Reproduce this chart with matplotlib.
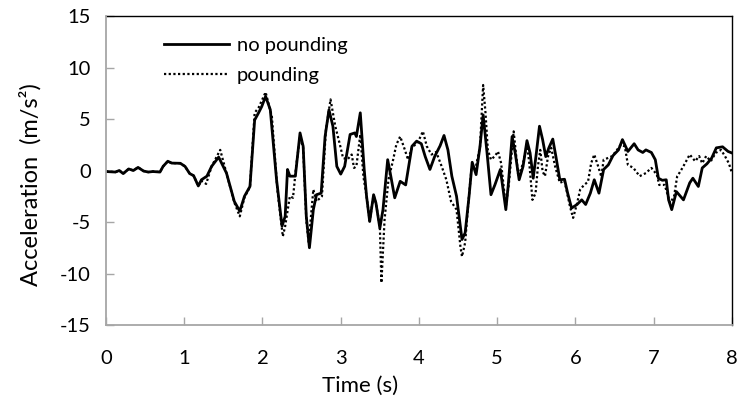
import matplotlib
matplotlib.use('Agg')
import matplotlib.pyplot as plt

plt.rcParams['font.family'] = ['Lato', 'DejaVu Sans']
plt.rcParams['axes.unicode_minus'] = False

# ground acceleration response, read at irregular time steps (s, m/s^2)
t_free = [0.00, 0.12, 0.17, 0.22, 0.29, 0.35, 0.41, 0.48, 0.54, 0.60, 0.69, 0.73, 0.79, 0.84,
          0.95, 1.01, 1.07, 1.12, 1.18, 1.22, 1.29, 1.35, 1.44, 1.54, 1.64, 1.71, 1.77, 1.84,
          1.90, 1.95, 1.99, 2.04, 2.10, 2.18, 2.25, 2.29, 2.32, 2.35, 2.42, 2.48, 2.52, 2.56,
          2.60, 2.65, 2.69, 2.75, 2.80, 2.85, 2.90, 2.95, 3.00, 3.05, 3.12, 3.18, 3.20, 3.25,
          3.30, 3.33, 3.37, 3.42, 3.45, 3.50, 3.54, 3.60, 3.64, 3.69, 3.76, 3.83, 3.91, 3.97,
          4.03, 4.08, 4.14, 4.20, 4.27, 4.32, 4.37, 4.42, 4.48, 4.55, 4.59, 4.64, 4.68, 4.73,
          4.78, 4.82, 4.87, 4.92, 4.97, 5.04, 5.11, 5.14, 5.19, 5.23, 5.28, 5.33, 5.38, 5.42,
          5.46, 5.50, 5.54, 5.58, 5.62, 5.66, 5.71, 5.75, 5.80, 5.86, 5.90, 5.95, 6.02, 6.08,
          6.13, 6.19, 6.24, 6.30, 6.36, 6.42, 6.48, 6.55, 6.60, 6.67, 6.75, 6.80, 6.86, 6.90,
          6.97, 7.02, 7.06, 7.11, 7.16, 7.19, 7.23, 7.29, 7.38, 7.46, 7.50, 7.57, 7.62, 7.68,
          7.74, 7.80, 7.88, 7.95, 8.00]
acc_free = [-0.1, -0.15, 0.0, -0.3, 0.15, 0.0, 0.3, -0.05, -0.15, -0.1, -0.15, 0.4, 0.9, 0.72,
            0.7, 0.4, -0.3, -0.5, -1.5, -0.9, -0.55, 0.4, 1.3, -0.25, -3.0, -3.95, -2.5, -1.55,
            4.9, 5.6, 6.2, 7.2, 5.9, -0.9, -5.4, -4.45, 0.1, -0.55, -0.55, 3.65, 2.35, -4.45,
            -7.5, -3.8, -2.35, -2.2, 3.3, 5.9, 4.3, 0.4, -0.35, 0.4, 3.5, 3.65, 3.3, 5.6,
            0.1, -2.5, -4.95, -2.35, -3.15, -5.6, -3.8, 1.05, -0.55, -2.65, -1.05, -1.4, 2.35, 2.85,
            2.6, 1.35, 0.1, 1.35, 2.4, 3.4, 2.0, -0.55, -2.5, -6.7, -6.05, -2.5, 0.8, -0.4,
            2.35, 5.4, 1.7, -2.35, -1.4, 0.1, -3.8, -1.5, 3.3, 1.7, -0.9, 0.4, 2.9, 1.7,
            -0.75, 1.7, 4.3, 3.0, 1.35, 2.2, 3.05, 1.35, -0.9, -0.85, -2.2, -3.65, -3.3, -2.85,
            -3.3, -2.2, -0.9, -2.2, 0.1, 0.55, 1.45, 2.0, 3.0, 1.85, 2.6, 2.0, 1.75, 2.0,
            1.75, 1.05, -0.75, -0.95, -0.9, -2.85, -3.8, -2.05, -2.85, -1.2, -0.75, -1.55, 0.25, 0.65,
            1.2, 2.2, 2.3, 1.85, 1.7]

t_pound = [0.00, 0.12, 0.17, 0.22, 0.29, 0.35, 0.41, 0.48, 0.54, 0.60, 0.69, 0.73, 0.79, 0.84,
           0.95, 1.01, 1.07, 1.12, 1.18, 1.22, 1.28, 1.35, 1.46, 1.54, 1.64, 1.71, 1.77, 1.84,
           1.90, 1.95, 2.04, 2.12, 2.19, 2.26, 2.29, 2.35, 2.39, 2.43, 2.48, 2.52, 2.56, 2.59,
           2.65, 2.69, 2.76, 2.81, 2.87, 2.93, 2.99, 3.03, 3.09, 3.14, 3.17, 3.20, 3.25, 3.29,
           3.33, 3.37, 3.42, 3.45, 3.50, 3.52, 3.56, 3.61, 3.67, 3.71, 3.76, 3.82, 3.86, 3.91,
           3.99, 4.05, 4.10, 4.16, 4.22, 4.29, 4.35, 4.41, 4.48, 4.53, 4.55, 4.59, 4.63, 4.67,
           4.72, 4.78, 4.82, 4.85, 4.88, 4.92, 4.97, 5.01, 5.05, 5.11, 5.15, 5.21, 5.27, 5.33,
           5.38, 5.41, 5.45, 5.49, 5.52, 5.55, 5.58, 5.61, 5.65, 5.69, 5.74, 5.80, 5.86, 5.93,
           5.97, 6.02, 6.06, 6.11, 6.16, 6.20, 6.24, 6.29, 6.33, 6.36, 6.41, 6.47, 6.53, 6.58,
           6.63, 6.67, 6.74, 6.82, 6.90, 6.97, 7.04, 7.07, 7.14, 7.21, 7.26, 7.30, 7.34, 7.40,
           7.46, 7.53, 7.58, 7.62, 7.67, 7.73, 7.79, 7.86, 7.91, 7.96, 8.00]
acc_pound = [-0.1, -0.15, 0.0, -0.3, 0.15, 0.0, 0.3, -0.05, -0.15, -0.1, -0.15, 0.4, 0.9, 0.72,
             0.7, 0.4, -0.3, -0.5, -1.5, -1.0, -1.3, 0.4, 2.0, -0.25, -3.1, -4.45, -2.6, -1.6,
             5.6, 6.1, 7.6, 5.25, -1.85, -6.4, -5.4, -2.5, -2.65, 0.4, 3.3, 2.2, -4.8, -7.0,
             -1.85, -3.0, -2.5, 3.9, 6.9, 4.3, 2.5, 1.2, 1.1, 1.55, 0.25, 0.4, 3.5, -0.6,
             -2.5, -4.9, -2.4, -3.2, -5.4, -10.9, -4.8, -0.9, 1.05, 2.5, 3.3, 2.0, 1.05, 2.2,
             2.8, 3.8, 2.35, 1.55, 1.8, 0.4, -0.9, -3.0, -3.8, -7.4, -8.35, -7.0, -3.2, 0.1,
             0.1, 2.3, 8.3, 5.6, 2.0, 1.05, 1.4, 1.85, 0.7, -3.5, -1.2, 3.8, -0.6, 0.7,
             2.6, 0.7, -2.85, -2.2, 0.4, 2.0, -0.1, -0.55, 1.4, 2.2, 0.4, -1.2, -1.0, -3.5,
             -4.6, -3.2, -1.85, -1.4, -1.1, 0.7, 1.55, 0.4, -0.6, 1.05, 1.2, 1.4, 2.0, 2.5,
             2.35, 0.55, 0.25, -0.55, -0.25, 0.25, -0.4, -1.4, -1.4, -3.15, -2.5, -0.55, -0.1, 0.7,
             1.55, 0.9, 1.4, 0.7, 1.4, 0.9, 1.7, 2.0, 1.4, 0.7, -0.25]

x_ticks = [0, 1, 2, 3, 4, 5, 6, 7, 8]
y_ticks = [-15, -10, -5, 0, 5, 10, 15]

fig = plt.figure(figsize=(7.39, 3.98), dpi=100)
ax = fig.add_axes([0.1434, 0.1834, 0.8471, 0.7764])

ax.plot(t_free, acc_free, color='black', lw=2.0, label='no pounding', zorder=3)
ax.plot(t_pound, acc_pound, color='black', lw=1.6, linestyle=(0, (1, 1.1)),
        dash_capstyle='butt', label='pounding', zorder=2)

ax.set_xlim(0, 8)
ax.set_ylim(-15, 15)
ax.set_xticks(x_ticks)
ax.set_yticks(y_ticks)

# excel style frame: grey axis lines, thin black box on the other two sides
for side in ('left', 'bottom'):
    ax.spines[side].set_color('#A6A6A6')
    ax.spines[side].set_linewidth(1.3)
    ax.spines[side].set_zorder(4)
for side in ('top', 'right'):
    ax.spines[side].set_color('black')
    ax.spines[side].set_linewidth(1.0)

ax.tick_params(axis='both', direction='in', color='#A6A6A6', width=1.0,
               labelsize=14.5, labelcolor='black')
ax.tick_params(axis='y', length=6, pad=11)
ax.tick_params(axis='x', length=6, pad=18)

# the time label sits a little left of centre, under the 3-4 s interval
ax.set_xlabel('Time (s)', fontsize=16)
ax.xaxis.set_label_coords(0.406, -0.165)
ax.set_ylabel('Acceleration  (m/s²)', fontsize=17)
ax.yaxis.set_label_coords(-0.103, 0.455)

ax.legend(loc='upper left', bbox_to_anchor=(0.08, 0.957), frameon=False,
          fontsize=14.5, handlelength=3.2, handletextpad=0.4, labelspacing=0.62,
          borderaxespad=0)

fig.savefig('out.png', dpi=100)
